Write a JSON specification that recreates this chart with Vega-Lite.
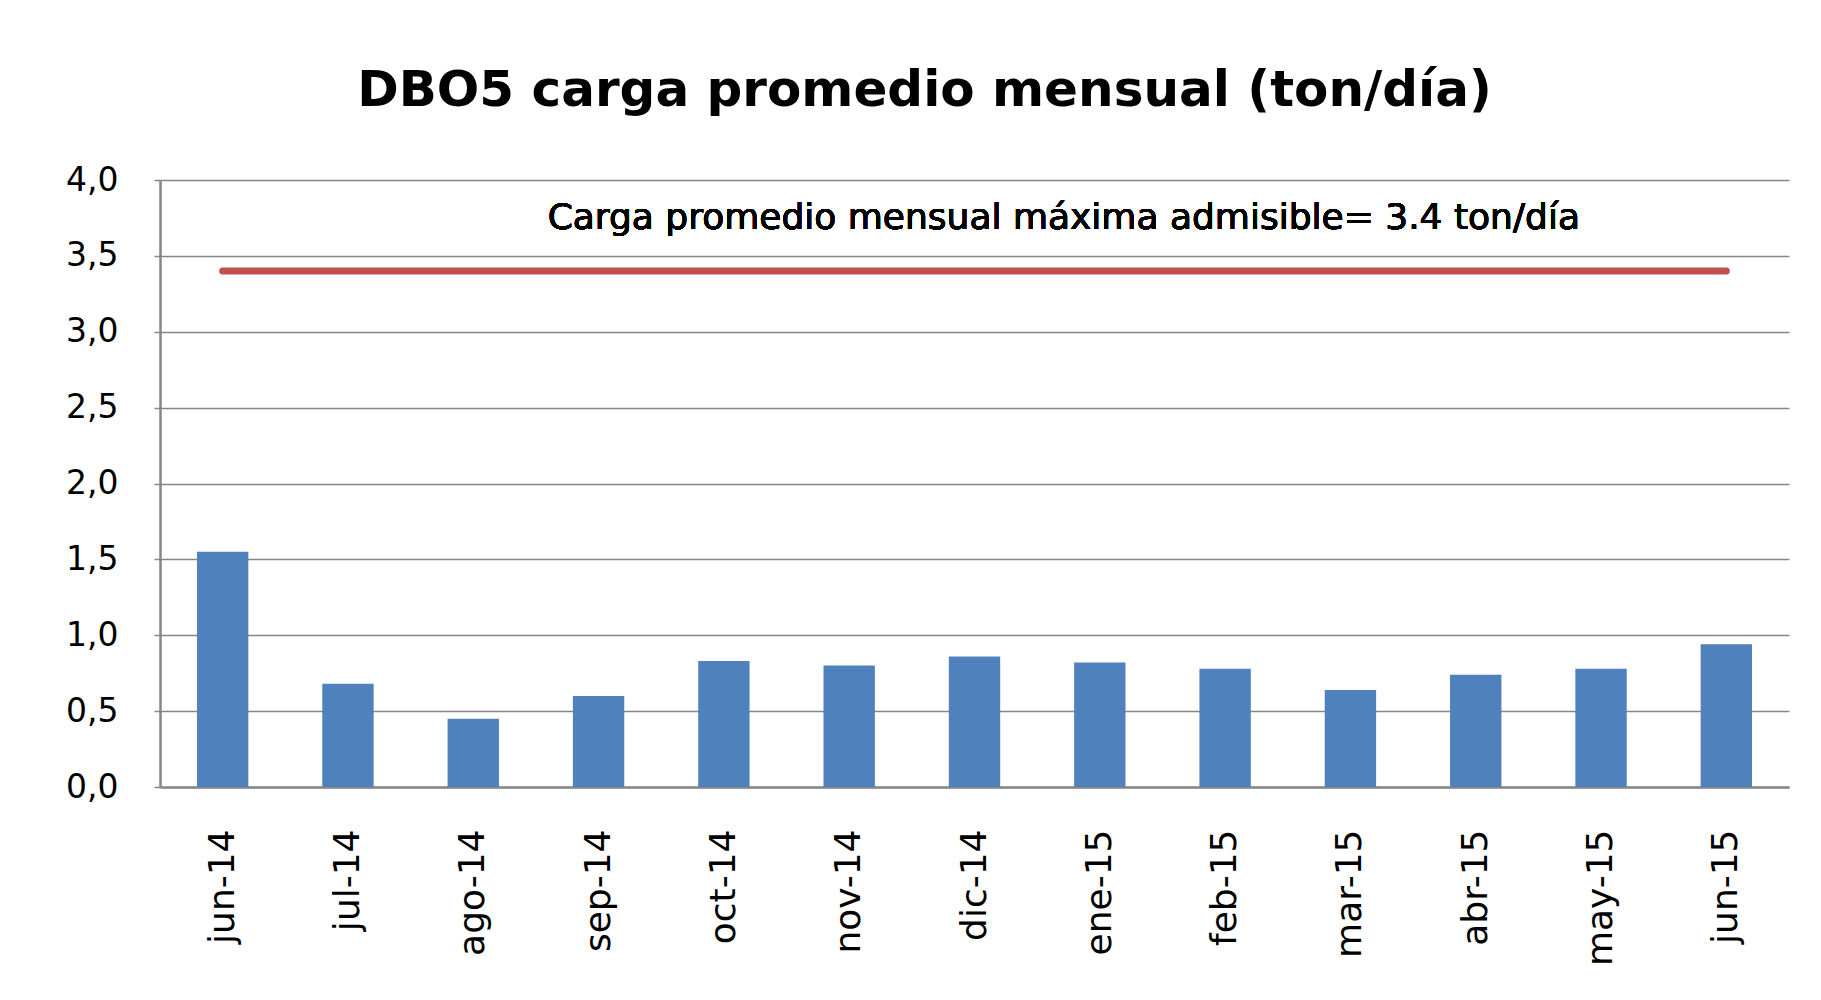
{
  "$schema": "https://vega.github.io/schema/vega-lite/v6.json",
  "autosize": {"type": "none"},
  "padding": {"left": 160, "top": 180, "right": 32, "bottom": 213},
  "width": 1629,
  "height": 607,
  "background": "white",
  "title": {
    "text": "DBO5 carga promedio mensual (ton/día)",
    "font": "DejaVu Sans",
    "fontSize": 50,
    "fontWeight": "bold",
    "color": "#000000",
    "anchor": "middle",
    "offset": 48,
    "dx": -50
  },
  "data": {
    "values": [
      {"mes": "jun-14", "carga": 1.55, "limite": 3.4},
      {"mes": "jul-14", "carga": 0.68, "limite": 3.4},
      {"mes": "ago-14", "carga": 0.45, "limite": 3.4},
      {"mes": "sep-14", "carga": 0.60, "limite": 3.4},
      {"mes": "oct-14", "carga": 0.83, "limite": 3.4},
      {"mes": "nov-14", "carga": 0.80, "limite": 3.4},
      {"mes": "dic-14", "carga": 0.86, "limite": 3.4},
      {"mes": "ene-15", "carga": 0.82, "limite": 3.4},
      {"mes": "feb-15", "carga": 0.78, "limite": 3.4},
      {"mes": "mar-15", "carga": 0.64, "limite": 3.4},
      {"mes": "abr-15", "carga": 0.74, "limite": 3.4},
      {"mes": "may-15", "carga": 0.78, "limite": 3.4},
      {"mes": "jun-15", "carga": 0.94, "limite": 3.4}
    ]
  },
  "encoding": {
    "x": {
      "field": "mes",
      "type": "nominal",
      "sort": null,
      "scale": {"paddingInner": 0.59, "paddingOuter": 0.295},
      "axis": {
        "title": null,
        "labelAngle": -90,
        "labelFont": "DejaVu Sans",
        "labelFontSize": 36,
        "labelColor": "#000000",
        "labelPadding": 42,
        "ticks": false,
        "domainColor": "#868686",
        "domainWidth": 2.5,
        "grid": false
      }
    }
  },
  "layer": [
    {
      "mark": {"type": "bar", "color": "#4F81BD"},
      "encoding": {
        "y": {
          "field": "carga",
          "type": "quantitative",
          "scale": {"domain": [0, 4], "nice": false},
          "axis": {
            "title": null,
            "values": [0, 0.5, 1, 1.5, 2, 2.5, 3, 3.5, 4],
            "labelExpr": "replace(format(datum.value, '.1f'), '.', ',')",
            "labelFont": "DejaVu Sans",
            "labelFontSize": 33,
            "labelColor": "#000000",
            "labelPadding": 36,
            "tickSize": 6,
            "tickColor": "#868686",
            "tickWidth": 1.5,
            "domainColor": "#868686",
            "domainWidth": 2.5,
            "grid": true,
            "gridColor": "#868686",
            "gridWidth": 1.5
          }
        }
      }
    },
    {
      "mark": {"type": "line", "color": "#C0504D", "strokeWidth": 7, "strokeCap": "round"},
      "encoding": {
        "y": {"field": "limite", "type": "quantitative"}
      }
    },
    {
      "mark": {
        "type": "text",
        "text": "Carga promedio mensual máxima admisible= 3.4 ton/día",
        "font": "DejaVu Sans",
        "fontSize": 36,
        "color": "#000000",
        "align": "center",
        "baseline": "middle",
        "dx": -36
      },
      "encoding": {
        "x": {"datum": "ene-15"},
        "y": {"datum": 3.75}
      }
    }
  ],
  "config": {
    "view": {"stroke": null}
  }
}
